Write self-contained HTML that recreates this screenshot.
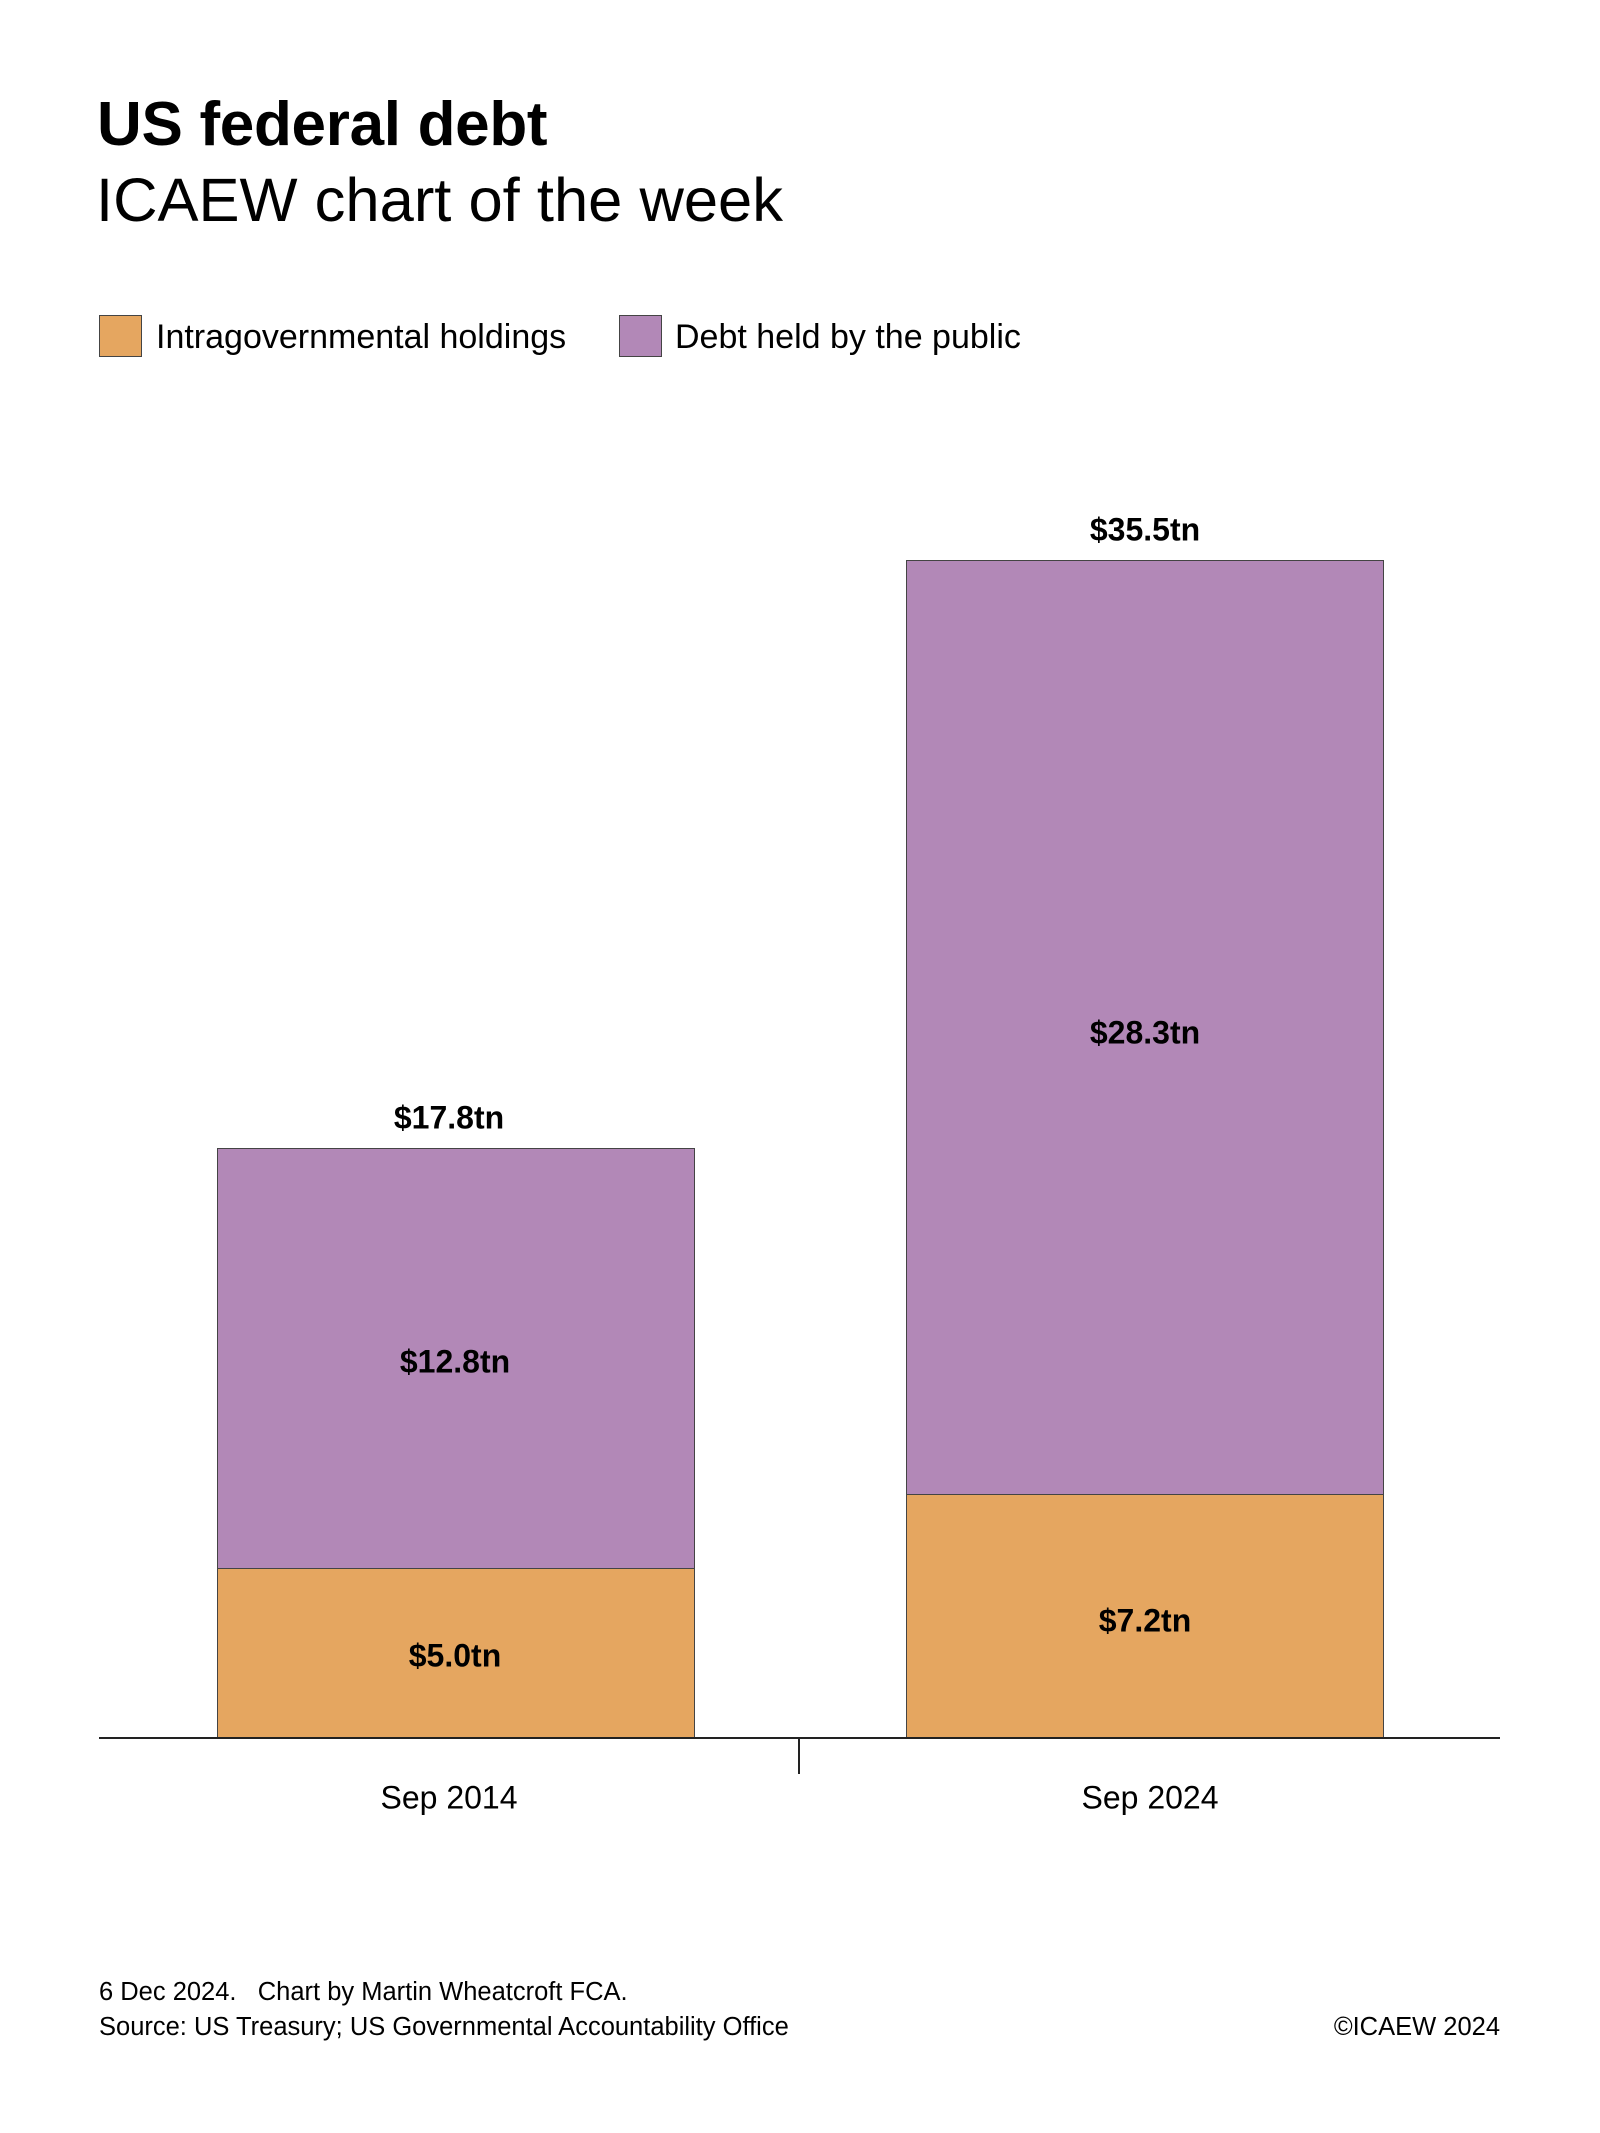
<!DOCTYPE html>
<html><head><meta charset="utf-8"><style>
html,body{margin:0;padding:0;background:#fff;}
body{width:1600px;height:2133px;position:relative;font-family:"Liberation Sans",sans-serif;color:#000;overflow:hidden;}
.t{position:absolute;white-space:nowrap;}
.c{transform:translate(-50%,-50%);}
.b{font-weight:bold;font-size:32px;}
.box{position:absolute;border:1px solid #444;box-sizing:border-box;}
</style></head><body>
<div class="t" style="left:97px;top:89px;font-size:62px;font-weight:bold;letter-spacing:-0.3px">US federal debt</div>
<div class="t" style="left:96px;top:165px;font-size:61.5px;">ICAEW chart of the week</div>

<div class="box" style="left:99px;top:315px;width:43px;height:42px;background:#E5A660"></div>
<div class="t" style="left:156px;top:318px;font-size:34px;">Intragovernmental holdings</div>
<div class="box" style="left:619px;top:315px;width:43px;height:42px;background:#B288B7"></div>
<div class="t" style="left:675px;top:318px;font-size:34px;">Debt held by the public</div>

<div class="box" style="left:217px;top:1148px;width:478px;height:422px;background:#B288B7"></div>
<div class="box" style="left:217px;top:1568px;width:478px;height:171px;background:#E5A660"></div>
<div class="box" style="left:906px;top:560px;width:478px;height:936px;background:#B288B7"></div>
<div class="box" style="left:906px;top:1494px;width:478px;height:245px;background:#E5A660"></div>

<div style="position:absolute;left:99px;top:1737px;width:1401px;height:2px;background:#222"></div>
<div style="position:absolute;left:798px;top:1737px;width:2px;height:37px;background:#222"></div>

<div class="t c b" style="left:449px;top:1118px">$17.8tn</div>
<div class="t c b" style="left:455px;top:1362px">$12.8tn</div>
<div class="t c b" style="left:455px;top:1656px">$5.0tn</div>
<div class="t c b" style="left:1145px;top:530px">$35.5tn</div>
<div class="t c b" style="left:1145px;top:1033px">$28.3tn</div>
<div class="t c b" style="left:1145px;top:1621px">$7.2tn</div>

<div class="t c" style="left:449px;top:1798px;font-size:32px">Sep 2014</div>
<div class="t c" style="left:1150px;top:1798px;font-size:32px">Sep 2024</div>

<div class="t" style="left:99px;top:1978px;font-size:25.5px">6 Dec 2024.&nbsp;&nbsp; Chart by Martin Wheatcroft FCA.</div>
<div class="t" style="left:99px;top:2013px;font-size:25.5px">Source: US Treasury; US Governmental Accountability Office</div>
<div class="t" style="right:100px;top:2013px;font-size:25.5px">©ICAEW 2024</div>
</body></html>
